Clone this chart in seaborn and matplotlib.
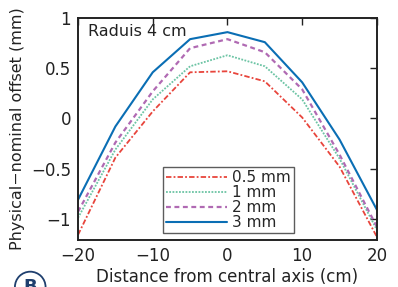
import numpy as np
import pandas as pd
import matplotlib
matplotlib.use("Agg")
import matplotlib.pyplot as plt
import seaborn as sns

# ######################### Data #########################

distance = [-20, -15, -10, -5, 0, 5, 10, 15, 20]
offset_05mm = [-1.16, -0.39, 0.07, 0.46, 0.47, 0.37, 0.01, -0.48, -1.18]
offset_1mm = [-0.99, -0.31, 0.19, 0.52, 0.63, 0.52, 0.19, -0.40, -1.11]
offset_2mm = [-0.93, -0.24, 0.27, 0.70, 0.79, 0.66, 0.29, -0.36, -1.08]
offset_3mm = [-0.81, -0.08, 0.46, 0.79, 0.86, 0.76, 0.36, -0.21, -0.91]

series_labels = ["0.5 mm", "1 mm", "2 mm", "3 mm"]
x_ticks = [-20, -10, 0, 10, 20]
y_ticks = [-1, -0.5, 0, 0.5, 1]

# ######################### Plot #########################

sns.set_style("white")
plt.rcParams["font.family"] = ["DejaVu Sans"]
plt.rcParams["axes.unicode_minus"] = True

fig = plt.figure(figsize=(3.98, 2.87), dpi=100)
ax = fig.add_axes([0.196, 0.164, 0.751, 0.773])

styles = [
    ("#e8453c", (0, (3, 1.2, 1, 1.2)), 1.3),
    ("#6cc4a4", (0, (1, 0.8)), 1.3),
    ("#b06ab3", (0, (2.2, 1.6)), 1.6),
    ("#0a6eb4", "-", 1.5),
]
for vals, label, (color, ls, lw) in zip(
    [offset_05mm, offset_1mm, offset_2mm, offset_3mm], series_labels, styles
):
    sns.lineplot(x=distance, y=vals, ax=ax, color=color, linestyle=ls,
                 linewidth=lw, label=label)

ax.set_xlim(-20, 20)
ax.set_ylim(-1.21, 1)
ax.set_xticks(x_ticks)
ax.set_yticks(y_ticks)
ax.set_xticklabels([str(t).replace("-", "\u2212") for t in x_ticks])
ax.set_yticklabels(["\u22121", "\u22120.5", "0", "0.5", "1"])
ax.tick_params(direction="in", length=5, width=1, top=True, right=True,
               labelsize=12, colors="#222222", pad=5)
for sp in ax.spines.values():
    sp.set_color("#222222")
    sp.set_linewidth(1.4)

ax.set_xlabel("Distance from central axis (cm)", fontsize=12, color="#222222",
              labelpad=2)
ax.set_ylabel("Physical\u2212nominal offset (mm)", fontsize=11.5, color="#222222",
              labelpad=4)
ax.text(0.035, 0.975, "Raduis 4 cm", transform=ax.transAxes, fontsize=11.5,
        ha="left", va="top", color="#222222")

leg = ax.legend(loc="lower left", bbox_to_anchor=(0.285, 0.03), fontsize=11,
                frameon=True, fancybox=False, handlelength=4.0,
                handletextpad=0.3, labelspacing=0.0, borderpad=0.2,
                borderaxespad=0)
leg.get_frame().set_edgecolor("#333333")
leg.get_frame().set_linewidth(1.0)

# partially visible panel label at the bottom edge
fig.text(0.076, 0.0, "B", fontsize=13, fontweight="bold", color="#1f3f6e",
         ha="center", va="center",
         bbox=dict(boxstyle="circle,pad=0.35", fc="white", ec="#1f3f6e", lw=1.3))

fig.savefig("out.png", dpi=100)
